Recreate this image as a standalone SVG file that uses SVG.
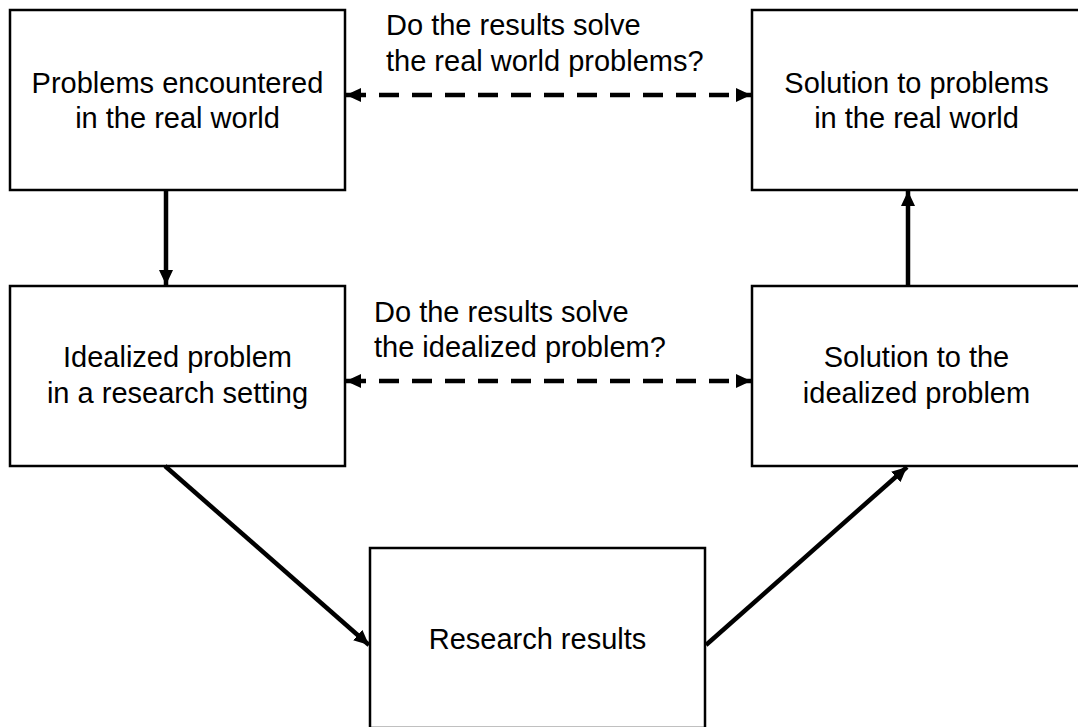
<svg xmlns="http://www.w3.org/2000/svg" width="1078" height="727" viewBox="0 0 1078 727">
  <style>
    .box { fill: #ffffff; stroke: #000000; stroke-width: 2.5; }
    .label { font-family: "Liberation Sans", Arial, Helvetica, sans-serif; font-size: 29px; fill: #000000; }
    .mid { text-anchor: middle; }
    .link { stroke: #000000; stroke-width: 4.5; fill: none; }
    .dashed { stroke-dasharray: 20 13; }
  </style>
  <defs>
    <!-- solid triangular head shared by every connector -->
    <marker id="arrow" viewBox="0 0 15 14" refX="15" refY="7" markerWidth="15" markerHeight="14" markerUnits="userSpaceOnUse" orient="auto-start-reverse">
      <path d="M0,0 L15,7 L0,14 Z" fill="#000000"/>
    </marker>
  </defs>
  <rect width="1078" height="727" fill="#ffffff"/>

  <g id="real-problems">
    <rect class="box" x="10" y="10" width="335" height="180"/>
    <text class="label mid" x="177.5" y="93">Problems encountered</text>
    <text class="label mid" x="177.5" y="128">in the real world</text>
  </g>

  <g id="real-solution">
    <rect class="box" x="752" y="10" width="335" height="180"/>
    <text class="label mid" x="916.5" y="93">Solution to problems</text>
    <text class="label mid" x="916.5" y="128">in the real world</text>
  </g>

  <g id="idealized-problem">
    <rect class="box" x="10" y="286" width="335" height="180"/>
    <text class="label mid" x="177.5" y="367">Idealized problem</text>
    <text class="label mid" x="177.5" y="403">in a research setting</text>
  </g>

  <g id="idealized-solution">
    <rect class="box" x="752" y="286" width="335" height="180"/>
    <text class="label mid" x="916.5" y="367">Solution to the</text>
    <text class="label mid" x="916.5" y="403">idealized problem</text>
  </g>

  <g id="research-results">
    <rect class="box" x="370" y="548" width="335" height="180"/>
    <text class="label mid" x="537.5" y="649">Research results</text>
  </g>

  <g id="connectors">
    <line class="link dashed" x1="346" y1="95" x2="751" y2="95" marker-start="url(#arrow)" marker-end="url(#arrow)"/>
    <line class="link dashed" x1="346" y1="381" x2="751" y2="381" marker-start="url(#arrow)" marker-end="url(#arrow)"/>
    <line class="link" x1="166" y1="191" x2="166" y2="285" marker-end="url(#arrow)"/>
    <line class="link" x1="908" y1="285" x2="908" y2="191" marker-end="url(#arrow)"/>
    <line class="link" x1="165" y1="466" x2="369" y2="645" marker-end="url(#arrow)"/>
    <line class="link" x1="706" y1="645" x2="907" y2="467" marker-end="url(#arrow)"/>
  </g>

  <g id="question-labels">
    <text class="label" x="386" y="35">Do the results solve</text>
    <text class="label" x="386" y="71">the real world problems?</text>
    <text class="label" x="374" y="322">Do the results solve</text>
    <text class="label" x="374" y="357">the idealized problem?</text>
  </g>
</svg>
